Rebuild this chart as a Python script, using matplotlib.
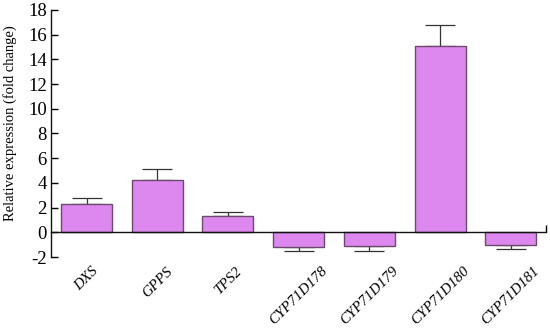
import matplotlib
matplotlib.use("Agg")
import matplotlib.pyplot as plt
import matplotlib.transforms as mtransforms
import numpy as np

categories = ["DXS", "GPPS", "TPS2", "CYP71D178", "CYP71D179", "CYP71D180", "CYP71D181"]
values = [2.3, 4.2, 1.35, -1.2, -1.12, 15.1, -1.03]
errors = [0.45, 0.9, 0.32, 0.28, 0.36, 1.65, 0.32]
yticks = list(range(-2, 19, 2))

plt.rcParams['font.family'] = ['Liberation Serif']
plt.rcParams['axes.unicode_minus'] = False

fig = plt.figure(figsize=(5.5, 3.28), dpi=100)
ax = fig.add_axes([0.093, 0.216, 0.9, 0.754])

x = np.arange(len(categories))
bar_color = '#dd88ee'
edge_color = '#6b4a6b'
ax.bar(x, values, width=0.72, color=bar_color, edgecolor=edge_color, linewidth=1.0, zorder=2)

vals = np.array(values)
errs = np.array(errors)
lower = np.where(vals < 0, errs, 0)
upper = np.where(vals >= 0, errs, 0)
ax.errorbar(x, vals, yerr=[lower, upper], fmt='none', ecolor='#333333',
            elinewidth=0.9, capsize=11, capthick=0.9, zorder=1)

ax.set_xlim(-0.5, len(categories) - 0.5)
ax.set_ylim(-2, 18)
ax.set_yticks(yticks)
ax.tick_params(axis='y', direction='in', length=5, width=1, labelsize=13.5, pad=3)

ax.spines['top'].set_visible(False)
ax.spines['right'].set_visible(False)
ax.spines['bottom'].set_position(('data', 0))
for s in ['left', 'bottom']:
    ax.spines[s].set_linewidth(1.0)
    ax.spines[s].set_color('#111111')

ax.set_xticks(x)
ax.set_xticklabels([])
ax.tick_params(axis='x', which='major', length=0)
ax.set_xticks([len(categories) - 0.5], minor=True)
ax.tick_params(axis='x', which='minor', direction='in', length=5, width=1)

trans = mtransforms.blended_transform_factory(ax.transData, ax.transAxes)
for xi, lab in zip(x, categories):
    ax.text(xi, -0.03, lab, transform=trans, rotation=45, ha='center', va='top',
            fontsize=10.8, style='italic')

ax.set_ylabel('Relative expression (fold change)', fontsize=10.5)
ax.yaxis.set_label_coords(-0.068, 0.54)

fig.savefig('out.png', dpi=100)
